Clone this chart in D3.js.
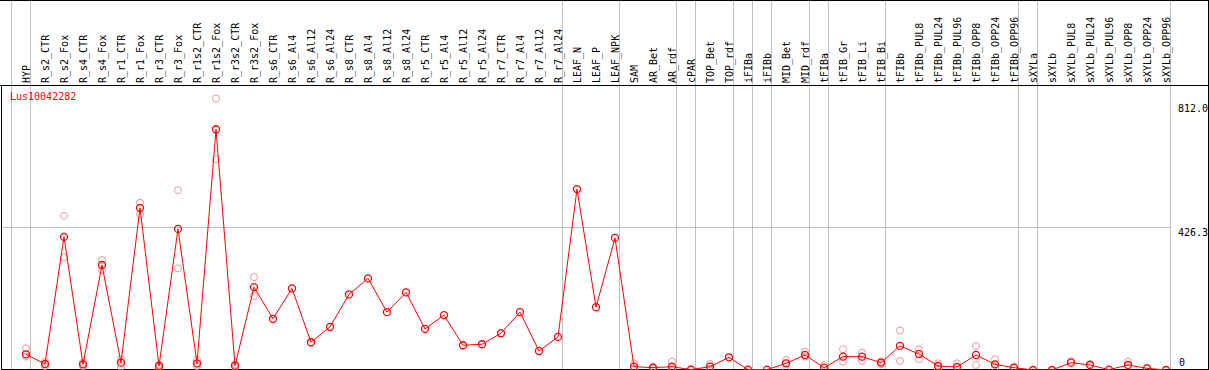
<!DOCTYPE html>
<html>
<head>
<meta charset="utf-8">
<script src="https://cdn.jsdelivr.net/npm/d3@7"></script>
<style>
  html, body { margin: 0; padding: 0; background: #fff; }
  svg { display: block; }
  text { font-family: "DejaVu Sans Mono", "Liberation Mono", monospace; font-size: 10px; }
</style>
</head>
<body>
<script>
// ---------- data ----------
const geneName = "Lus10042282";

const categories = ["HYP","R_s2_CTR","R_s2_Fox","R_s4_CTR","R_s4_Fox","R_r1_CTR","R_r1_Fox","R_r3_CTR","R_r3_Fox",
  "R_r1s2_CTR","R_r1s2_Fox","R_r3s2_CTR","R_r3s2_Fox","R_s6_CTR","R_s6_Al4","R_s6_Al12","R_s6_Al24",
  "R_s8_CTR","R_s8_Al4","R_s8_Al12","R_s8_Al24","R_r5_CTR","R_r5_Al4","R_r5_Al12","R_r5_Al24",
  "R_r7_CTR","R_r7_Al4","R_r7_Al12","R_r7_Al24","LEAF_N","LEAF_P","LEAF_NPK","SAM","AR_Bet","AR_rdf",
  "cPAR","TOP_Bet","TOP_rdf","iFIBa","iFIBb","MID_Bet","MID_rdf","tFIBa","tFIB_Gr","tFIB_Li","tFIB_Bi",
  "tFIBb","tFIBb_PUL8","tFIBb_PUL24","tFIBb_PUL96","tFIBb_OPP8","tFIBb_OPP24","tFIBb_OPP96",
  "sXYLa","sXYLb","sXYLb_PUL8","sXYLb_PUL24","sXYLb_PUL96","sXYLb_OPP8","sXYLb_OPP24","sXYLb_OPP96"];

const meanValues = [47,18,398,17,314,22,485,12,422,20,720,13,248,153,244,83,129,
  226,274,173,232,123,164,74,77,110,173,57,99,541,188,395,10,7,10,
  1,10,38,1,1,20,45,7,40,40,22,72,48,12,9,45,17,7,0,0,22,15,1,15,5,0];

const replicateA = [65,24,461,22,329,32,500,16,538,30,812,17,278,null,null,null,null,
  null,null,null,null,null,null,null,null,null,null,null,null,null,null,null,20,9,25,
  3,18,null,null,null,30,55,15,62,52,25,118,62,20,20,72,32,9,null,null,27,18,null,25,7,null];

const replicateB = [40,12,337,12,299,10,466,8,304,12,630,10,221,null,null,null,null,
  null,null,null,null,null,null,null,null,null,null,null,null,null,null,null,4,5,3,
  null,4,null,null,null,3,40,null,25,27,18,27,32,4,null,15,7,null,null,null,null,null,null,null,null,null];

// group boundaries (index of first category of each group, plus end)
const groupBreaks = [0,1,29,32,35,36,38,39,40,42,43,46,53,54,61];

const yTickValues = [812.0, 426.3, 0];
const yTickLabels = ["812.0", "426.3", "0"];

// ---------- layout ----------
const W = 1209, H = 370;
const headerBottom = 85;
const plotLeft = 1, plotRight = 1208, plotBottom = 369;

const svg = d3.select("body").append("svg").attr("width", W).attr("height", H);

const x = d3.scaleLinear().domain([0, 60]).range([26, 1166]);
const step = x(1) - x(0);
const y = d3.scaleLinear().domain([0, 812]).range([370, 98.5]);

const crisp = v => Math.round(v) + 0.5;

// vertical group separators
svg.append("g").selectAll("line").data(groupBreaks).join("line")
  .attr("x1", d => crisp(x(d) - 15)).attr("x2", d => crisp(x(d) - 15))
  .attr("y1", 0).attr("y2", H)
  .attr("stroke", "#c0c0c0").attr("stroke-width", 1).attr("shape-rendering", "crispEdges");

// horizontal mid gridline
svg.append("line")
  .attr("x1", plotLeft).attr("x2", crisp(x(61) - 15))
  .attr("y1", crisp(y(yTickValues[1]))).attr("y2", crisp(y(yTickValues[1])))
  .attr("stroke", "#c0c0c0").attr("stroke-width", 1).attr("shape-rendering", "crispEdges");

// frame
const frame = svg.append("g").attr("stroke", "#000").attr("stroke-width", 1).attr("shape-rendering", "crispEdges");
frame.append("line").attr("x1", 0).attr("x2", W).attr("y1", 0.5).attr("y2", 0.5);
frame.append("line").attr("x1", 0).attr("x2", W).attr("y1", headerBottom + 0.5).attr("y2", headerBottom + 0.5);
frame.append("line").attr("x1", plotLeft + 0.5).attr("x2", plotLeft + 0.5).attr("y1", headerBottom).attr("y2", plotBottom + 1);
frame.append("line").attr("x1", plotRight + 0.5).attr("x2", plotRight + 0.5).attr("y1", 0).attr("y2", plotBottom + 1);
frame.append("line").attr("x1", plotLeft).attr("x2", plotRight + 1).attr("y1", plotBottom + 0.5).attr("y2", plotBottom + 0.5);

// category labels (rotated)
svg.append("g").selectAll("text").data(categories).join("text")
  .attr("transform", (d, i) => `translate(${x(i) + 4},83) rotate(-90)`)
  .attr("text-anchor", "start")
  .attr("fill", "#000")
  .text(d => d);

// right value labels
const labelOffsets = [13, 8.5, -4];
svg.append("g").selectAll("text").data(yTickValues).join("text")
  .attr("x", (d, i) => i === 2 ? 1179 : 1178)
  .attr("y", (d, i) => Math.min(y(d) + labelOffsets[i], 366))
  .attr("fill", "#000")
  .text((d, i) => yTickLabels[i]);

// title
svg.append("text").attr("x", 10).attr("y", 100).attr("fill", "#ff0000").text(geneName);

// replicate markers
const reps = [];
replicateA.forEach((v, i) => { if (v != null) reps.push({i, v}); });
replicateB.forEach((v, i) => { if (v != null) reps.push({i, v}); });
svg.append("g").selectAll("circle").data(reps).join("circle")
  .attr("cx", d => x(d.i)).attr("cy", d => y(d.v)).attr("r", 3.5)
  .attr("fill", "none").attr("stroke", "#ee9999").attr("stroke-width", 1);

// mean line
const line = d3.line().x((d, i) => x(i)).y(d => y(d));
svg.append("path").datum(meanValues).attr("d", line)
  .attr("fill", "none").attr("stroke", "#ff0000").attr("stroke-width", 1);

// mean markers
svg.append("g").selectAll("circle").data(meanValues).join("circle")
  .attr("cx", (d, i) => x(i)).attr("cy", d => y(d)).attr("r", 3.5)
  .attr("fill", "none").attr("stroke", "#ff0000").attr("stroke-width", 1.3);
</script>
</body>
</html>
